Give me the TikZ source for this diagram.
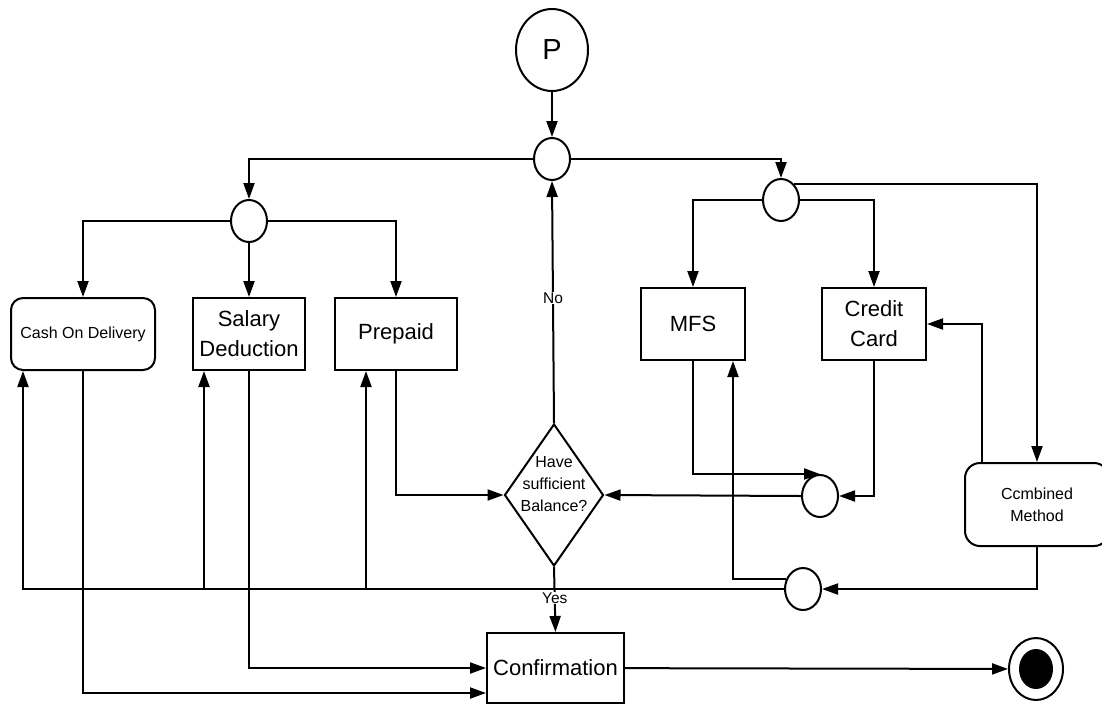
\documentclass[tikz,border=0pt]{standalone}
\usepackage{fontspec}
\setmainfont{Liberation Sans}
\usetikzlibrary{arrows.meta,shapes.geometric,calc}
\newcommand\fbig{\fontsize{22}{30}\selectfont}
\newcommand\fsmall{\fontsize{16}{22}\selectfont}
\newcommand\flbl{\fontsize{15.5}{18}\selectfont}
\newcommand\fbigP{\fontsize{29}{32}\selectfont}
\begin{document}
\begin{tikzpicture}[x=1pt,y=-1pt, line width=2pt,
  >={Triangle[length=16pt,width=11pt]},
  junc/.style={draw, ellipse, minimum width=36pt, minimum height=42pt, inner sep=0pt},
  boxn/.style={draw, rectangle, align=center, inner sep=0pt, font=\fbig},
  rbox/.style={draw, rectangle, rounded corners=12pt, align=center, inner sep=0pt, font=\fsmall},
  lbl/.style={fill=white, inner sep=0.5pt, font=\flbl}]
\useasboundingbox (0,0) rectangle (1102,705);
% nodes
\node[junc, minimum width=72pt, minimum height=82pt, font=\fbigP] (P) at (552,50) {P};
\node[junc] (j0) at (552,159) {};
\node[junc] (j1) at (249,221) {};
\node[junc] (j2) at (781,200) {};
\node[junc] (j3) at (820,496) {};
\node[junc] (j4) at (803,589) {};
\node[rbox, minimum width=144pt, minimum height=72pt] (cash) at (83,334) {Cash On Delivery};
\node[boxn, minimum width=112pt, minimum height=72pt] (sal) at (249,334) {Salary\\Deduction};
\node[boxn, minimum width=122pt, minimum height=72pt] (pre) at (396,334) {Prepaid};
\node[boxn, minimum width=104pt, minimum height=72pt] (mfs) at (693,324) {MFS};
\node[boxn, minimum width=104pt, minimum height=72pt] (cc) at (874,324) {Credit\\Card};
\node[rbox, rounded corners=15pt, minimum width=144pt, minimum height=83pt] (comb) at (1037,504.5) {Ccmbined\\Method};
\node[draw, diamond, minimum width=99pt, minimum height=142pt, inner sep=0pt] (dia) at (554,495) {};
\node[font=\fsmall, align=center, inner sep=0pt] (diat) at (554,484) {Have\\sufficient\\Balance?};
\node[boxn, minimum width=137pt, minimum height=70pt] (conf) at (555.5,668) {Confirmation};
\node[draw, ellipse, minimum width=54pt, minimum height=62pt, inner sep=0pt] (end) at (1036,669) {};
\node[fill=black, ellipse, minimum width=34pt, minimum height=40pt, inner sep=0pt] (endin) at (end.center) {};
% helper coordinates
\coordinate (cu) at ($(comb.north west)+(18,0)$);
\coordinate (mu) at ($(mfs.south east)+(-13,0)$);
\coordinate (cashup) at ($(cash.south west)+(13,0)$);
\coordinate (salup) at ($(sal.south west)+(12,0)$);
\coordinate (preup) at ($(pre.south west)+(32,0)$);
% connectors
\draw[->] (P) -- (j0);
\draw[->] (j0.west) -| (j1.north);
\draw[->] (j0.east) -| (j2.north);
\draw[->] (j1.west) -| (cash.north);
\draw[->] (j1) -- (sal);
\draw[->] (j1.east) -| (pre.north);
\draw[->] (j2.west) -| (mfs.north);
\draw[->] (j2.east) -| (cc.north);
\draw[->] (j2.50) -| (comb.north);
\draw[->] (cu) |- (cc.east);
\draw[->] (comb.south) |- (j4.east);
\draw[->] (j4.150) -| (mu);
\draw[->] (j4.west) -- (cashup |- j4.west) -- (cashup);
\draw[->] (salup |- j4.west) -- (salup);
\draw[->] (preup |- j4.west) -- (preup);
\draw[->] (pre.south) |- (dia.west);
\draw[->] (j3.west) -- (dia.east);
\draw[->] (mfs.south) |- (j3.north);
\draw[->] (cc.south) |- (j3.east);
\draw[->] (dia.north) -- node[lbl, pos=0.516] {No} (j0.south);
\draw[->] (dia.south) -- node[lbl, pos=0.48] {Yes} (conf.north);
\draw[->] (sal.south) |- (conf.west);
\draw[->] (cash.south) |- ($(conf.west)+(0,25)$);
\draw[->] (conf) -- (end);
\end{tikzpicture}
\end{document}
